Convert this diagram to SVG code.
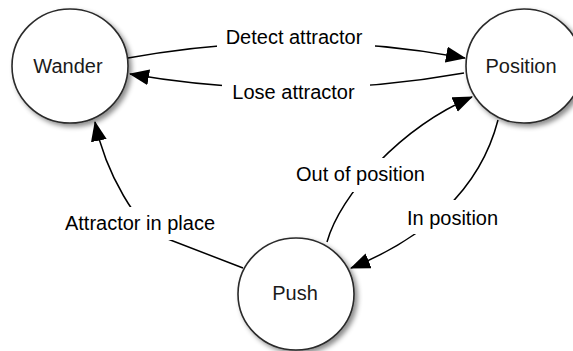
<svg xmlns="http://www.w3.org/2000/svg" width="573" height="351" viewBox="0 0 573 351">
  <defs>
    <filter id="shadow" x="-20%" y="-20%" width="150%" height="150%">
      <feDropShadow dx="3" dy="3" stdDeviation="2.5" flood-color="#000" flood-opacity="0.45"/>
    </filter>
    <marker id="arrow" markerUnits="userSpaceOnUse" markerWidth="20" markerHeight="16" viewBox="0 0 20 16" refX="19" refY="8" orient="auto">
      <path d="M0,0 L20,8 L0,16 z" fill="#000"/>
    </marker>
    <style>
      .state ellipse { fill: #fff; stroke: #2a2a2a; stroke-width: 1.6; filter: url(#shadow); }
      .state text { font-family: "Liberation Sans", Arial, Helvetica, sans-serif; font-size: 20px; fill: #1a1a1a; text-anchor: middle; }
      .edge path { fill: none; stroke: #000; stroke-width: 1.5; marker-end: url(#arrow); }
      .edge rect { fill: #fff; }
      .edge text { font-family: "Liberation Sans", Arial, Helvetica, sans-serif; font-size: 20px; fill: #000; text-anchor: middle; }
    </style>
  </defs>

  <rect width="573" height="351" fill="#fff"/>

  <!-- states -->
  <g id="wander" class="state">
    <ellipse cx="70" cy="66" rx="58" ry="57"/>
    <text x="68" y="73">Wander</text>
  </g>
  <g id="position" class="state">
    <ellipse cx="524" cy="66" rx="58" ry="57"/>
    <text x="521" y="73">Position</text>
  </g>
  <g id="push" class="state">
    <ellipse cx="296" cy="294" rx="58" ry="56"/>
    <text x="295" y="300">Push</text>
  </g>

  <!-- transitions -->
  <g id="connectors">
    <g class="edge" id="detect-attractor">
      <path d="M128,58 Q296,27 465,58"/>
      <rect x="217" y="24" width="158" height="28"/>
      <text x="294" y="44">Detect attractor</text>
    </g>
    <g class="edge" id="lose-attractor">
      <path d="M464,73 Q297,103 130,74"/>
      <rect x="222" y="80" width="148" height="26"/>
      <text x="293.5" y="99">Lose attractor</text>
    </g>
    <g class="edge" id="attractor-in-place">
      <path d="M243,268 L160,236 C138,227 106,175 95,122"/>
      <rect x="60" y="207" width="160" height="33"/>
      <text x="140" y="230">Attractor in place</text>
    </g>
    <g class="edge" id="out-of-position">
      <path d="M327,242 C340,195 400,128 472,97"/>
      <rect x="290" y="158" width="140" height="34"/>
      <text x="360.5" y="181">Out of position</text>
    </g>
    <g class="edge" id="in-position">
      <path d="M498,120 C480,190 425,238 351,268"/>
      <rect x="402" y="200" width="101" height="34"/>
      <text x="452.5" y="225">In position</text>
    </g>
  </g>
</svg>
